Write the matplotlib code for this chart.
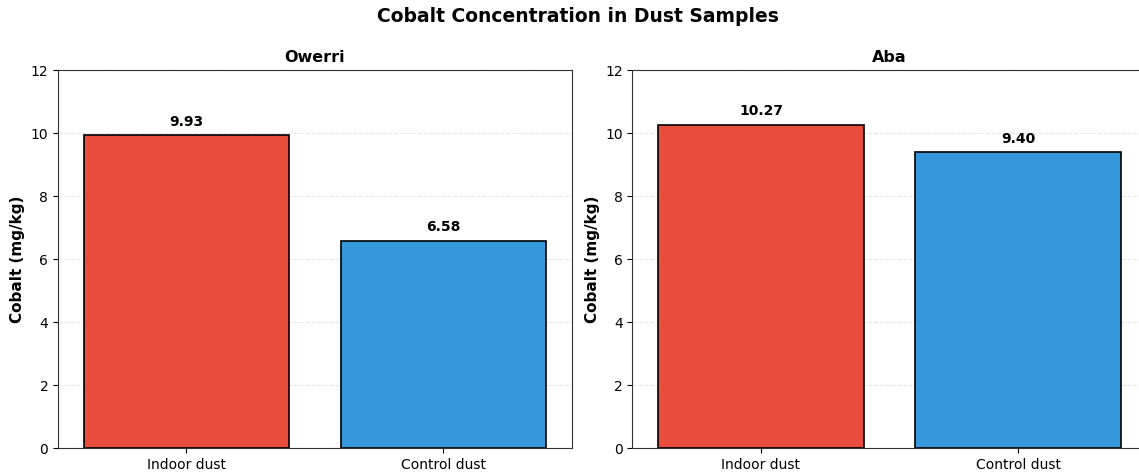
import matplotlib
matplotlib.use("Agg")
import matplotlib.pyplot as plt

# Data
cities = ["Owerri", "Aba"]
sample_types = ["Indoor dust", "Control dust"]
owerri_values = [9.93, 6.58]
aba_values = [10.27, 9.40]
bar_colors = ["#e74c3c", "#3498db"]

fig = plt.figure(figsize=(11.39, 4.76), dpi=100)
ax1 = fig.add_axes([0.0509, 0.0588, 0.4513, 0.794])
ax2 = fig.add_axes([0.5553, 0.0588, 0.4513, 0.794])

for ax, city, values in zip([ax1, ax2], cities, [owerri_values, aba_values]):
    bars = ax.bar(sample_types, values, color=bar_colors, edgecolor="black", linewidth=1.2, width=0.8)
    for b, v in zip(bars, values):
        ax.text(b.get_x() + b.get_width() / 2, v + 0.2, f"{v:.2f}",
                ha="center", va="bottom", fontsize=10, fontweight="bold")
    ax.set_title(city, fontsize=11.5, fontweight="bold")
    ax.set_ylabel("Cobalt (mg/kg)", fontsize=11, fontweight="bold")
    ax.set_ylim(0, 12)
    ax.set_xlim(-0.5, 1.5)
    ax.yaxis.grid(True, linestyle="--", alpha=0.3)
    ax.set_axisbelow(True)
    ax.tick_params(labelsize=10)
    for s in ax.spines.values():
        s.set_color("#333333")

fig.suptitle("Cobalt Concentration in Dust Samples", fontsize=13.5, fontweight="bold", x=0.5075, y=0.985)
fig.savefig("out.png", dpi=100)
